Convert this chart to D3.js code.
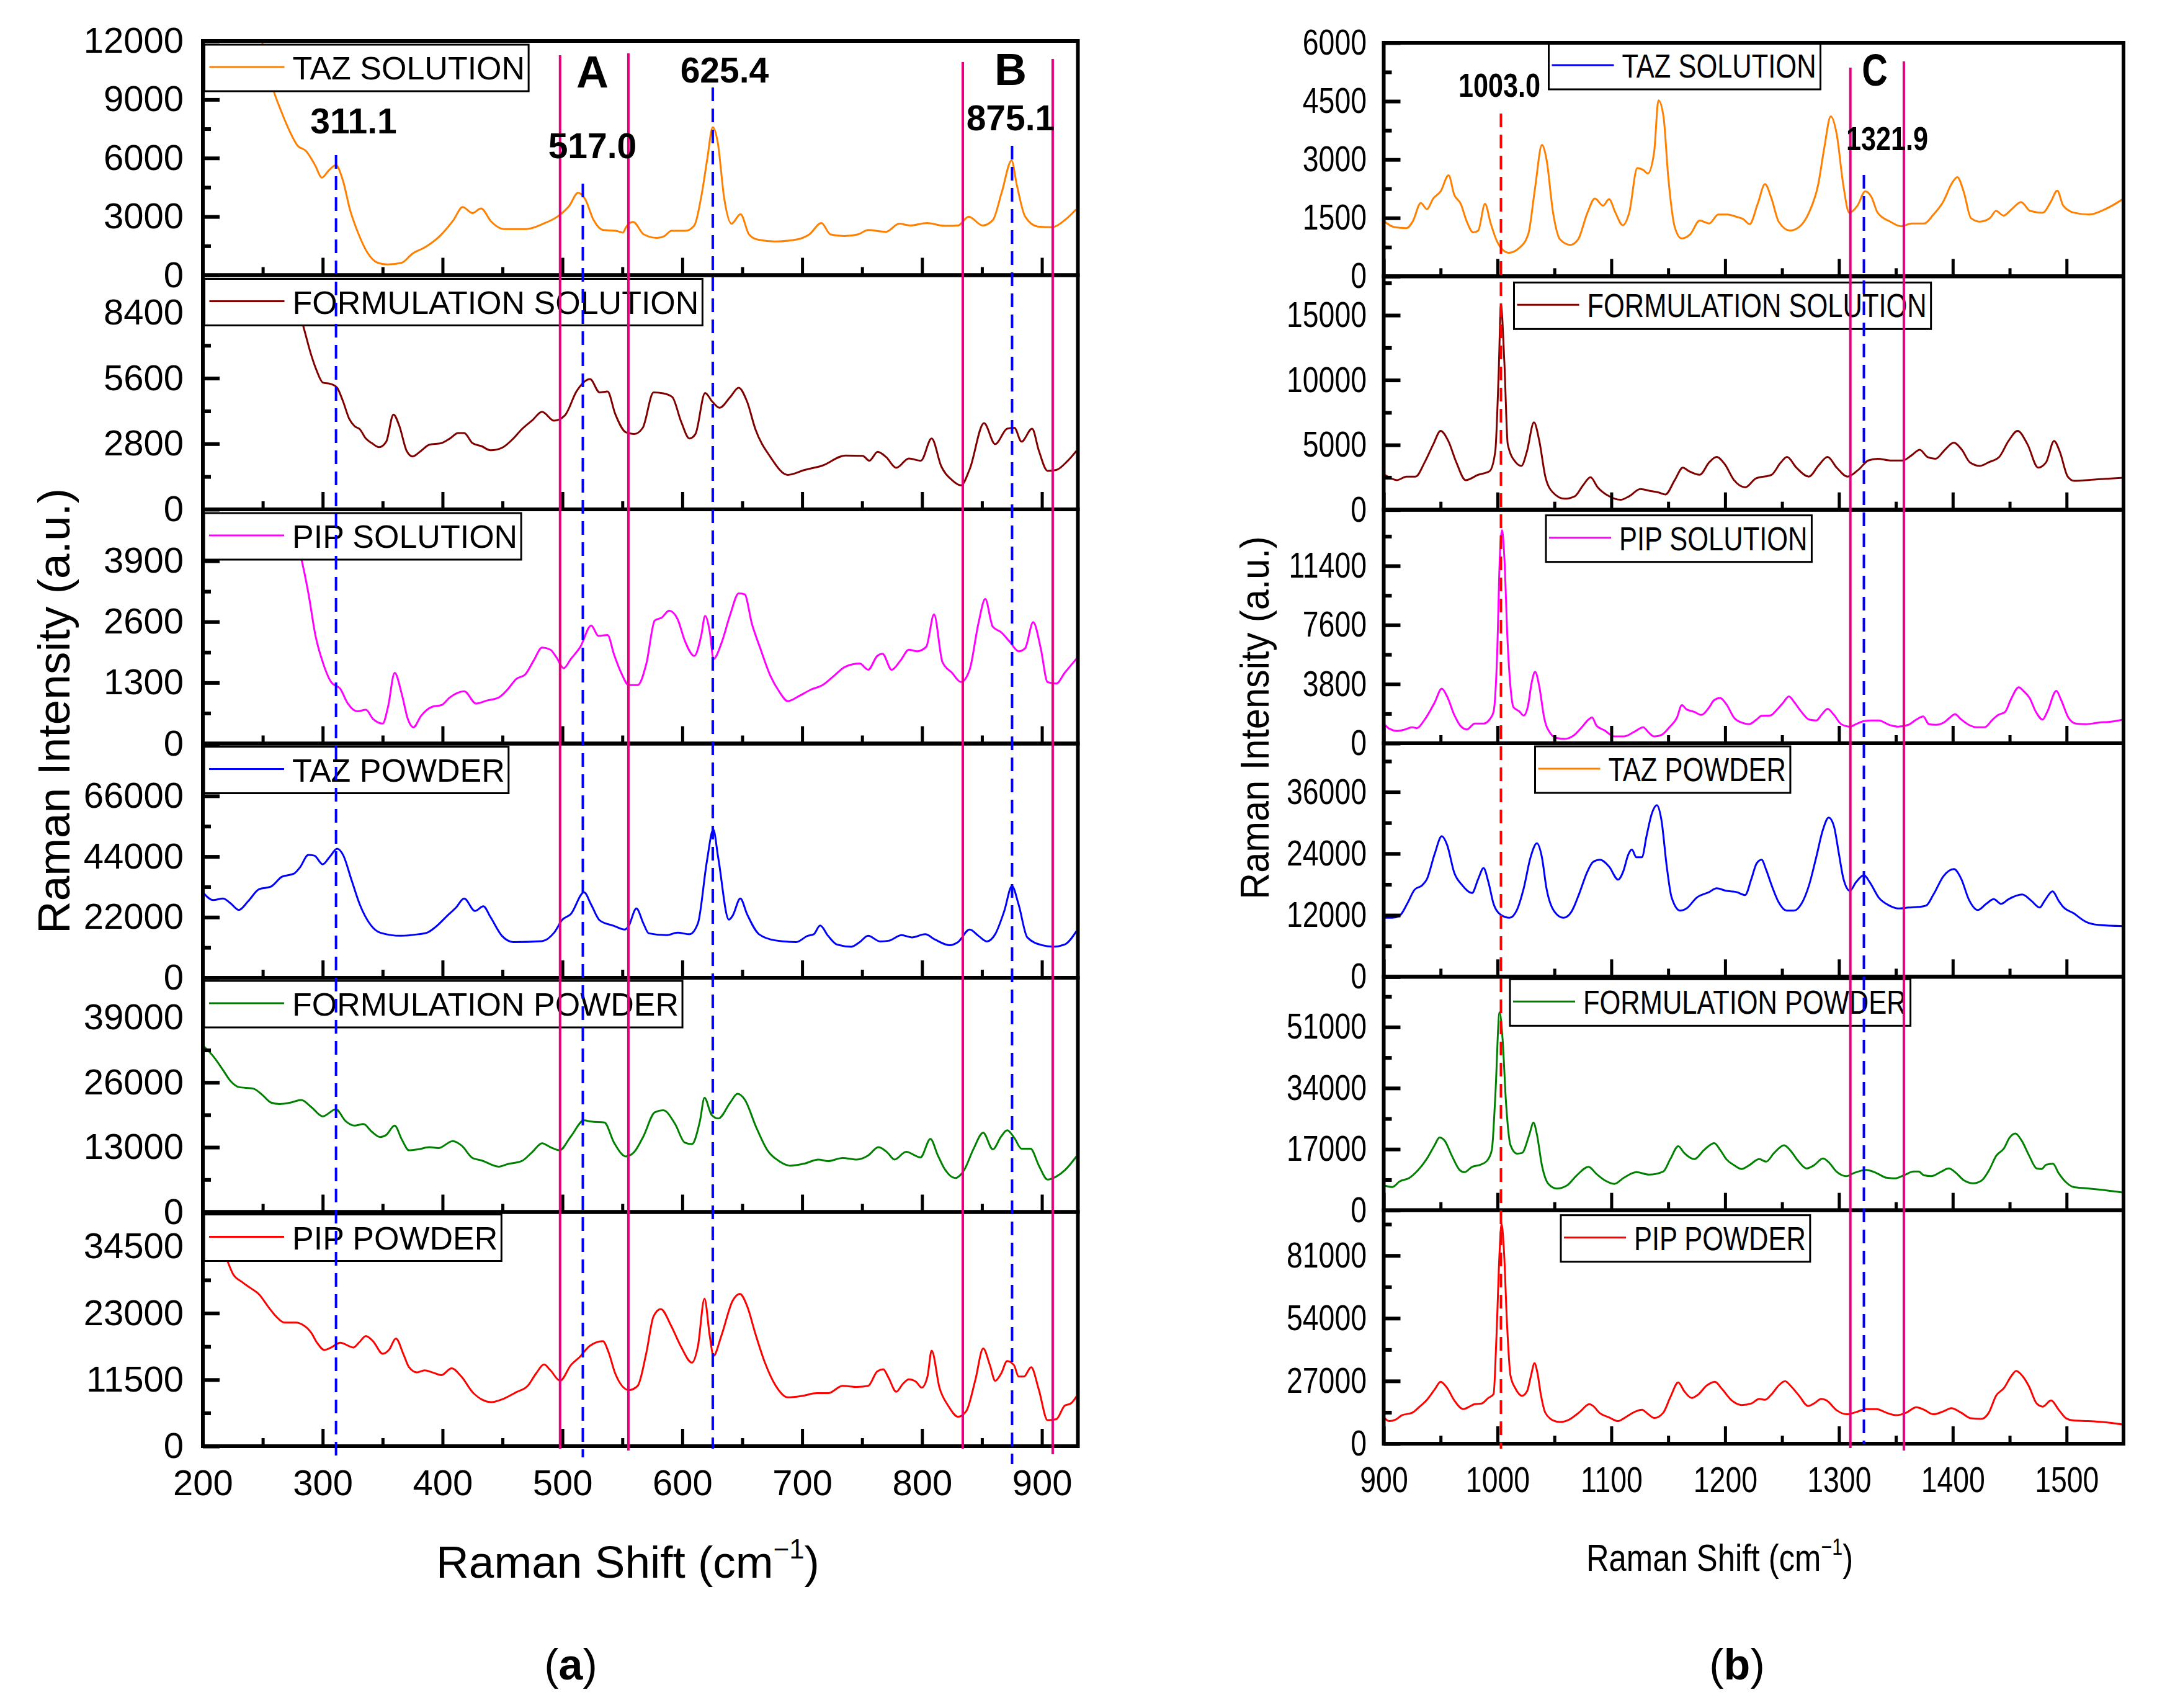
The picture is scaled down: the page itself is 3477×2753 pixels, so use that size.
<!DOCTYPE html>
<html>
<head>
<meta charset="utf-8">
<script src="https://cdn.jsdelivr.net/npm/d3@7"></script>
<style>
  body { margin: 0; background: #fff; }
  svg { display: block; }
  text { font-family: "Liberation Sans", Arial, sans-serif; fill: #000; }
</style>
</head>
<body>
<svg id="chart" width="3477" height="2753"></svg>
<script>
// ---- data -------------------------------------------------------------
const seriesNames = ["TAZ SOLUTION", "FORMULATION SOLUTION", "PIP SOLUTION", "TAZ POWDER", "FORMULATION POWDER", "PIP POWDER"];
const seriesColors = ["#ff8000", "#800000", "#ff00ff", "#0000ff", "#008000", "#ff0000"];
// in panel (b) the two TAZ legend swatches are swapped, as in the original figure
const legendColorsB = ["#0000ff", "#800000", "#ff00ff", "#ff8000", "#008000", "#ff0000"];

const xTicksA = [200, 300, 400, 500, 600, 700, 800, 900];
const xMinorA = [250, 350, 450, 550, 650, 750, 850];
const xTicksB = [900, 1000, 1100, 1200, 1300, 1400, 1500];
const xMinorB = [950, 1050, 1150, 1250, 1350, 1450];

const yMaxA = [12000, 10000, 5000, 85000, 47000, 40500];
const yTicksA = [
  [0, 3000, 6000, 9000, 12000],
  [0, 2800, 5600, 8400],
  [0, 1300, 2600, 3900],
  [0, 22000, 44000, 66000],
  [0, 13000, 26000, 39000],
  [0, 11500, 23000, 34500]
];
const yMinorA = [
  [1500, 4500, 7500, 10500],
  [1400, 4200, 7000, 9800],
  [650, 1950, 3250, 4550],
  [11000, 33000, 55000, 77000],
  [6500, 19500, 32500, 45500],
  [5750, 17250, 28750, 40250]
];
const yMaxB = [6000, 18000, 15000, 45500, 65000, 100500];
const yTicksB = [
  [0, 1500, 3000, 4500, 6000],
  [0, 5000, 10000, 15000],
  [0, 3800, 7600, 11400],
  [0, 12000, 24000, 36000],
  [0, 17000, 34000, 51000],
  [0, 27000, 54000, 81000]
];
const yMinorB = [
  [750, 2250, 3750, 5250],
  [2500, 7500, 12500, 17500],
  [1900, 5700, 9500, 13300],
  [6000, 18000, 30000, 42000],
  [8500, 25500, 42500, 59500],
  [13500, 40500, 67500, 94500]
];

// panel (a) spectra: [raman shift, intensity]
const tazSolA = [[249.5,11945],[259,9454],[265,8454],[272.5,7363],[279,6636],[286,6363],[293.6,5636],[299.3,4999],[305,5363],[311,5636],[317,4818],[322.7,3363],[330,2090],[337,1182],[345.8,636],[354,545],[365.9,636],[374.6,1091],[386,1454],[397.6,2000],[409,2818],[416.7,3490],[425,3181],[432,3418],[440.8,2727],[451,2363],[469.7,2363],[484,2636],[495.8,3000],[505.6,3545],[513,4218],[518.8,3909],[526,2818],[534,2309],[544.6,2272],[550.5,2181],[553,2454],[559,2727],[567.8,2090],[579,1909],[585,2000],[591,2272],[602.6,2272],[610,2545],[616,4090],[620.7,5909],[625.4,7581],[629.5,6818],[635,3909],[641,2636],[648.6,3127],[655.6,2090],[663,1818],[677.4,1727],[694.7,1818],[706,2090],[716,2672],[723.5,2090],[735,2000],[746.6,2090],[755,2309],[769.8,2218],[781,2636],[790,2545],[804,2672],[818.8,2527],[830,2545],[838.9,3000],[850.5,2545],[859,2818],[866.6,4272],[874.7,5872],[879,4636],[886,3000],[896.6,2490],[908,2454],[919.7,2854],[928.4,3363]];
const formSolA = [[276,9000],[283,7953],[290.5,6573],[295,5916],[300,5416],[307,5350],[312,5193],[317,4601],[322,3878],[326.6,3549],[331,3418],[336,3024],[341,2826],[347,2655],[353,2892],[359,4049],[364,3549],[370,2498],[375,2261],[382,2498],[389,2761],[399,2826],[406,3024],[413,3260],[418,3260],[425,2826],[432.6,2695],[440,2524],[449.5,2629],[459,3024],[466,3418],[475,3812],[483,4167],[493,3786],[502,4010],[512,5061],[523,5561],[531,4995],[537.6,5035],[544,4075],[553,3287],[560,3221],[567,3484],[576,4995],[584,4956],[591.6,4798],[599,3747],[606,3024],[611,3221],[619,4969],[625,4601],[631,4338],[640,4798],[647,5193],[654,4601],[661,3418],[673.5,2235],[688,1472],[702,1683],[716.8,1867],[736,2301],[750.5,2287],[756,2077],[763,2458],[770,2235],[778.5,1775],[789,2169],[799,2077],[808,3024],[816,1841],[825,1249],[832.5,1025],[839.7,1709],[851.7,3681],[861,2787],[871,3444],[877,3484],[883,2892],[891.8,3444],[897.5,2498],[904.7,1643],[912,1683],[921.6,2077],[928.8,2498]];
const pipSolA = [[279,4300],[282,3972],[288,3217],[294,2298],[300,1740],[307,1313],[314.6,1169],[321,854],[329,689],[336,722],[342,525],[350,427],[354.5,788],[360,1510],[366,1051],[371,525],[375.7,348],[382,591],[391.6,788],[399,821],[406,985],[418,1116],[428,854],[437,919],[447,985],[454,1149],[461.5,1379],[469,1477],[476,1773],[483,2049],[490,2003],[495,1838],[501,1609],[507,1806],[515,2068],[524,2521],[530,2298],[537.6,2318],[543,1904],[549,1510],[555.4,1248],[562.7,1248],[570,1707],[577,2626],[583,2692],[589,2837],[596,2659],[602,2200],[610,1871],[615.7,2298],[619,2725],[623,2364],[626,1806],[632.5,2134],[640,2758],[647,3204],[652,3185],[658,2561],[665,2035],[673.5,1445],[680.7,1116],[688,906],[697.6,1018],[707,1149],[717,1248],[726.5,1445],[736,1642],[748,1707],[755,1576],[762.6,1871],[767,1917],[774.6,1576],[782,1773],[789,2003],[796,1970],[803.5,2068],[810,2758],[817,1740],[825,1510],[832.5,1313],[839.7,1576],[847,2561],[852.7,3086],[859,2495],[866,2377],[873.4,2167],[880.6,1970],[886,2035],[892.7,2594],[899,2035],[904.7,1313],[912,1280],[919,1510],[926.5,1740],[931,1871]];
const tazPowA = [[200,31020],[208.6,28200],[216.8,28764],[223,27072],[230,24590],[237.5,27636],[247,32148],[256.7,33050],[266,36660],[276,37788],[281,40044],[288,44556],[293,44330],[300,41172],[306,43992],[312,46812],[317,44556],[324,35532],[331,26508],[340,19176],[348,16356],[365,15228],[379.6,15792],[387,16356],[394,18386],[404,22560],[411,25380],[418,28764],[427,24252],[434,25944],[440,21996],[449.5,15228],[459,12972],[483,13310],[493,16356],[500,21094],[507,23124],[518,31020],[524,26508],[531,20868],[543,18838],[552,17484],[555,18612],[561.7,25154],[567.5,19740],[572,16130],[586.8,15454],[596,16356],[606,15792],[613,19740],[620.5,42300],[625.8,53806],[630,43428],[638.8,21094],[642,22560],[648.4,28764],[654,23124],[664,15792],[678,13536],[695,12972],[704.6,15228],[709.6,15792],[715,18950],[721.6,15228],[729,12070],[741,11280],[748,12972],[755,15228],[765,13198],[772,13423],[783,15454],[791.5,14664],[802.6,15792],[810.8,13874],[823,11844],[830,12972],[839.7,17484],[847,15228],[854,13198],[861,15792],[868.6,24252],[875,33276],[880.6,26508],[887.8,14664],[899.9,11844],[909.5,11280],[919,12070],[928.8,16920]];
const formPowA = [[200,33426],[208.6,31260],[216,28784],[223,26308],[230,25069],[242,24760],[249.5,23522],[256.7,21975],[264,21665],[273.6,21975],[282,22470],[290.5,21046],[300,19189],[311,20613],[319,18261],[326.6,17332],[334,17642],[341,16094],[348,15042],[353,15475],[360,17332],[366,14547],[372,12380],[379.6,12566],[389,12999],[396.5,12813],[408.5,14237],[416,13309],[425,10833],[432.6,10337],[447,9099],[454,9595],[466,10214],[475,12071],[483,13804],[490,12999],[497.6,12380],[507,15166],[518,18384],[524,18137],[535,17951],[543,13928],[553,11142],[560,12071],[567.5,15166],[577,19994],[584,20427],[594,17642],[602,13928],[608,13619],[614.7,18261],[618.5,22903],[624.4,19499],[630,18756],[640,21975],[646,23708],[652,22594],[661.6,17023],[671,12380],[680.7,10214],[690,9285],[702,9718],[713.5,10523],[721.6,10214],[733.7,10833],[745.7,10523],[755,11328],[763.6,12999],[771,11947],[777,10523],[786.7,12071],[798.7,10956],[807,14670],[813,11452],[818,8976],[827.6,6809],[835,8357],[843,12690],[851,15908],[859,12566],[866,15166],[871,16404],[877,14856],[883,12690],[890.5,12690],[897.5,9285],[904.7,6500],[912,7119],[919,8357],[928.8,11142]];
const pipPowA = [[218,33500],[220.6,31987],[225,29830],[232.7,28393],[240,27314],[247,26236],[254,24260],[261,22462],[268,21384],[278,21384],[283,21025],[290.5,19587],[295,17970],[301.5,16640],[307,17071],[314.6,17898],[325.6,17071],[330.5,17970],[336,19048],[342,18150],[350,15993],[355.5,16712],[361,18617],[367.5,15813],[372,13657],[378.6,12759],[385,13118],[391.6,12759],[399,12292],[407.5,13477],[415.7,12040],[425,9344],[432.6,8086],[441,7619],[449.5,8086],[461.5,9344],[471,10423],[478,12579],[484.6,14124],[490,13118],[498,11321],[507,14016],[514.5,15454],[522.7,17323],[533.7,18150],[538.6,16173],[544,12579],[555.4,9703],[562.7,10423],[570,16173],[576,22462],[582,23720],[590.6,20845],[598.8,17251],[608,14448],[613,17251],[618.5,25517],[622.9,19048],[626,15633],[632.5,19048],[642,25158],[648,26344],[654,24260],[661,19407],[668.7,14555],[678,10423],[688,8446],[700,8697],[712,9164],[721.6,9164],[733.7,10423],[745.7,10243],[755,10423],[762.6,12938],[767.6,13298],[772,11860],[778.5,9416],[784,10782],[789,11573],[795,11141],[799.7,10135],[804.5,12040],[808,16532],[814.6,10063],[821.8,7008],[830,5103],[837,6110],[844.5,11501],[851,16892],[856.6,14016],[861,11321],[866,12579],[871,14735],[876.7,14016],[880.6,12040],[885,12040],[891,13657],[897.5,9703],[904.7,4493],[912,4672],[919,7008],[924,7367],[931,9344]];

// panel (b) spectra
const tazSolB = [[900.8,1404],[909,1266],[920,1238],[925.4,1404],[932.6,1881],[938,1725],[943.5,2000],[950,2183],[957,2596],[962,2092],[967.7,1862],[973,1404],[978.6,1128],[983,1174],[989,1862],[994,1358],[999.5,899],[1005,670],[1010,605],[1018.6,716],[1027,1083],[1033,2275],[1039,3376],[1043,3009],[1048.8,1633],[1055,945],[1064,807],[1070.7,945],[1079,1633],[1085.5,2000],[1092.7,1816],[1098,1982],[1103.6,1633],[1110,1312],[1115.7,1633],[1122.8,2780],[1128,2734],[1132,2642],[1137.6,3193],[1141.4,4523],[1145.8,4110],[1150,2550],[1155.7,1266],[1161.7,972],[1169.4,1083],[1177.6,1431],[1186,1358],[1194,1587],[1202,1587],[1210.5,1523],[1216,1468],[1221.5,1339],[1228.6,1862],[1235,2367],[1240.7,2000],[1247,1404],[1257,1174],[1265,1266],[1273.6,1633],[1281.8,2367],[1287,3284],[1292.8,4110],[1298,3651],[1303.7,2367],[1309,1633],[1316.3,1816],[1323,2183],[1328.4,2046],[1334,1633],[1345,1404],[1354.7,1284],[1364,1358],[1375,1358],[1383,1587],[1391.4,1908],[1399.7,2413],[1404,2550],[1409.5,2183],[1416,1495],[1424,1404],[1432.6,1495],[1438,1679],[1444.6,1560],[1451.8,1725],[1460,1908],[1468,1679],[1479,1633],[1486,1908],[1491.8,2202],[1497,1816],[1506.6,1633],[1520,1587],[1534,1725],[1550.4,2000]];
const formSolB = [[900.8,2697],[911.7,2284],[920,2559],[928,2559],[936,3660],[943.5,5036],[950,6082],[956.7,5311],[963.8,3660],[972,2284],[983,2697],[993,2972],[998,4486],[1001,10540],[1003,15769],[1006,11366],[1009,5036],[1016,3660],[1021,3385],[1025.8,4486],[1032,6742],[1036.7,5311],[1042,2559],[1048.8,1321],[1058.7,853],[1068,1046],[1075,1871],[1081.7,2504],[1088,1734],[1098,1046],[1108,771],[1115.7,1046],[1125.5,1596],[1133.8,1459],[1142,1321],[1147.5,1183],[1155.7,2284],[1162.8,3247],[1168.3,2972],[1177.6,2697],[1186,3660],[1192.5,4073],[1199.6,3523],[1207.8,2284],[1217.7,1734],[1227,2422],[1240.7,2697],[1249,3660],[1254.4,4073],[1262.6,3247],[1273.6,2559],[1281.8,3385],[1290,4073],[1298,3247],[1307.6,2559],[1317.4,3110],[1325.7,3798],[1334,3935],[1345,3798],[1356,3798],[1364,4211],[1371,4623],[1377.7,4073],[1384.9,3935],[1393,4623],[1400.8,5174],[1408,4623],[1415,3660],[1424,3385],[1431.5,3660],[1440.8,4073],[1449,5311],[1457,6082],[1465.7,5036],[1475,3247],[1482,3660],[1489,5311],[1494,4486],[1501,2559],[1506.6,2229],[1525.8,2339],[1550.4,2477]];
const pipSolB = [[900,1266],[905,930],[911.8,792],[918,871],[925,1029],[929,970],[936,1524],[944.7,2612],[951,3503],[955.7,3008],[962,1821],[968,1069],[973,891],[980,1266],[987.7,1266],[993,1524],[996.5,2019],[999.6,5581],[1002,11914],[1004,13695],[1006,11914],[1008.8,6570],[1011.4,3602],[1014,2315],[1019,2058],[1023,1781],[1026.8,2414],[1030,3899],[1033,4591],[1036.8,3602],[1041,1623],[1046.5,633],[1052,336],[1058.8,277],[1067.5,534],[1074,1029],[1080,1524],[1083,1662],[1087,1128],[1094,831],[1102.6,435],[1111,435],[1120,732],[1128,1029],[1133,673],[1137.7,435],[1144,534],[1151,1029],[1157.5,1623],[1162,2454],[1166,2177],[1172.8,2019],[1179,1821],[1186,2315],[1190,2751],[1195.6,2909],[1201,2513],[1208,1623],[1214.5,1326],[1221,1227],[1227.6,1524],[1232,1761],[1239.5,1781],[1245,2117],[1251,2612],[1256,3008],[1261,2612],[1267,2019],[1273.7,1524],[1280,1464],[1284.6,1821],[1290,2216],[1295.6,1821],[1302,1227],[1309.6,1069],[1315,1227],[1322,1425],[1328.5,1464],[1335,1464],[1344,1187],[1351.8,1069],[1361,1187],[1368,1524],[1374,1722],[1379,1227],[1385.5,1187],[1392,1326],[1397,1623],[1402,1860],[1407.5,1524],[1414,1187],[1420.6,1029],[1428,1029],[1435,1524],[1440,1821],[1446,2019],[1451,2810],[1458,3602],[1462,3364],[1467.5,2909],[1473,2019],[1478.9,1524],[1483,2019],[1491,3364],[1495,2810],[1501.8,1623],[1508,1266],[1517,1227],[1528,1326],[1539,1385],[1550,1524]];
const tazPowB = [[900,11486],[907.5,11486],[914,11909],[920.6,14206],[927,16926],[933.8,17833],[938,19042],[944.7,23878],[951,27384],[955.7,25691],[962,20251],[969,17833],[977.6,16322],[983,19042],[987.7,21158],[992,18437],[996.5,14206],[1002.6,12090],[1010.5,11486],[1017,12997],[1023,17228],[1029,23273],[1034.6,25994],[1039,23273],[1043,17228],[1050,12695],[1058,11486],[1065,12695],[1072,16322],[1078.5,20251],[1084,22367],[1090,22790],[1098,21460],[1106,18921],[1110.5,20553],[1115,23878],[1118,24785],[1122,23273],[1126.8,23273],[1131,27505],[1135.5,31736],[1140,33429],[1144,30527],[1148.7,21460],[1153,15415],[1160.5,12876],[1166,13299],[1175,15415],[1186,16503],[1192.5,17228],[1201,16745],[1210,16503],[1217.5,15899],[1223,19042],[1227.6,22064],[1232,22790],[1236,20855],[1240.8,17833],[1247,14508],[1254,12876],[1260.5,12876],[1267,14206],[1273.7,17833],[1280,23273],[1286,28714],[1291,31011],[1295.6,29318],[1300,23878],[1304,19042],[1309.6,16745],[1315,18437],[1322,19767],[1327,18437],[1335,15415],[1344,13904],[1353,13299],[1361,13481],[1370,13602],[1376.8,13904],[1383,16019],[1392,19646],[1401,20976],[1407.5,19042],[1414,15112],[1422,12997],[1429.4,14206],[1436,15112],[1442.5,14206],[1449,15112],[1461,16019],[1469,14810],[1476.3,13481],[1480.7,14810],[1487.7,16624],[1493,14810],[1497,13602],[1506,12392],[1517,10700],[1528,10095],[1550,9853]];
const formPowB = [[900,6893],[907.5,6462],[914,8013],[922.8,9047],[929,10770],[938,14389],[944.7,18094],[949,20248],[953.5,19386],[960,15078],[966.7,11201],[971,10598],[977.6,12062],[985,12665],[990.8,13786],[995,16801],[998,31448],[1001.8,55142],[1004.4,47819],[1007.5,29725],[1011.4,18094],[1017,15767],[1021.5,15940],[1028,21109],[1031.6,24383],[1034.6,21109],[1039,12493],[1044.7,7324],[1052,6031],[1061,6893],[1069.7,9736],[1080,12062],[1087,10081],[1095,8185],[1102.6,7324],[1111,9047],[1122,10598],[1133,9908],[1145.6,10770],[1151.8,14216],[1158.8,17835],[1164,15940],[1172.8,14216],[1181.6,16801],[1190.4,18697],[1195.6,16801],[1201,14216],[1208,12493],[1214.5,11459],[1221,12493],[1230,14216],[1236,13527],[1243,15940],[1251.8,18094],[1258,16370],[1264,13786],[1271.5,11632],[1278,12493],[1286,14389],[1291,13355],[1297.8,10770],[1306.6,9478],[1313,10339],[1324,11201],[1333,10339],[1341.7,9047],[1349,8874],[1357,9736],[1365.8,10770],[1370,10770],[1374.6,9736],[1381,9478],[1390,10770],[1396.5,11632],[1403,10339],[1409.6,8357],[1418,7496],[1425,8185],[1432,11201],[1438,15078],[1445,17232],[1450,20248],[1455,21368],[1460.5,19386],[1467,15250],[1473.7,11632],[1478,11459],[1482,12665],[1488,12924],[1493,10339],[1499.6,7754],[1506,6462],[1517,6117],[1528,5773],[1550,4911]];
const pipPowB = [[900,11322],[905,9724],[910.5,10390],[916,12254],[925,13320],[931.6,15984],[938,18914],[944.7,23310],[950,26640],[955.7,23976],[962,18648],[970,14918],[975.4,15984],[979.8,17050],[986,17316],[992,19714],[996.5,21312],[999,45288],[1001.8,82584],[1003.5,94572],[1005.7,82584],[1008.3,51948],[1011.4,29304],[1015.8,23710],[1021.5,20646],[1026,22644],[1029.4,29304],[1032.5,34632],[1035,30636],[1038,21312],[1042,13320],[1049,9990],[1055,9324],[1063,10390],[1072,13586],[1080.7,17050],[1084,16250],[1089.5,13320],[1098,11322],[1106,9724],[1111,10922],[1120,13586],[1126.8,14652],[1132.5,12654],[1137.7,11056],[1145.6,13320],[1151.8,19980],[1158.8,26374],[1164,22644],[1170.6,19714],[1176,21046],[1183.8,25042],[1191,26640],[1197,23710],[1205.7,18648],[1214.5,16650],[1223,17316],[1230,19314],[1235,18914],[1240.8,21312],[1247,25042],[1252.6,26906],[1258,24642],[1265,20646],[1272.8,16250],[1278,17316],[1284.6,19314],[1289,18648],[1298,14386],[1306.6,12654],[1315,13586],[1324,14918],[1333,14918],[1341.7,13320],[1350.4,12254],[1359,13320],[1368,15718],[1374.6,14652],[1383,12654],[1392,13986],[1398.7,15318],[1407.5,13320],[1416,10922],[1425,10656],[1431.6,13320],[1438,20646],[1445,23976],[1451.3,29038],[1455.7,31302],[1461.4,29038],[1467,24642],[1473.7,17316],[1479,15984],[1486.4,18648],[1493,14652],[1499.6,10922],[1506,9990],[1519,9724],[1536.8,9058],[1550,8200]];

// marker lines (cm-1) and peak labels
const peakLinesA = [311.1, 517.0, 625.4, 875.1];
const bandLinesA = [498, 555, 834, 909];
const peakLabelsA = ["311.1", "517.0", "625.4", "875.1"];
const regionLabelsA = ["A", "B"];
const redPeakB = [1003.0];
const peakLinesB = [1321.9];
const bandLinesB = [1310, 1357];
const peakLabelsB = ["1003.0", "1321.9"];
const regionLabelsB = ["C"];

// ---- layout -----------------------------------------------------------
const svg = d3.select("#chart");
const NARROW = 0.8;

const colA = {
  id: "a", left: 327, right: 1737.5, top: 66, bottom: 2331, domain: [200, 930],
  xTicks: xTicksA, xMinor: xMinorA, yMax: yMaxA, yTicks: yTicksA, yMinor: yMinorA,
  series: [tazSolA, formSolA, pipSolA, tazPowA, formPowA, pipPowA],
  legendColors: seriesColors, narrow: 1, labelPad: 31, xPad: 38,
  legend: { dx: [2.5, 2.5, 2, 2, 2, 2], dy: [6, 6, 6, 5, 5, 4], h: 75, line: [8, 129], text: 142,
            size: 52, scale: 1, pad: 6 }
};
const colB = {
  id: "b", left: 2230.5, right: 3423, top: 69, bottom: 2327, domain: [900, 1550],
  xTicks: xTicksB, xMinor: xMinorB, yMax: yMaxB, yTicks: yTicksB, yMinor: yMinorB,
  series: [tazSolB, formSolB, pipSolB, tazPowB, formPowB, pipPowB],
  legendColors: legendColorsB, narrow: NARROW, labelPad: 27.5, xPad: 37,
  legend: { dx: [266, 210, 261.5, 244, 203.5, 285.5], dy: [0, 10, 9, 5, 4, 8], h: 75, line: [5, 105], text: 118,
            size: 53, scale: 0.82, pad: 7 }
};

function drawColumn(col) {
  const x = d3.scaleLinear().domain(col.domain).range([col.left, col.right]);
  const ph = (col.bottom - col.top) / 6;
  const gCurves = svg.append("g");
  const gAxes = svg.append("g");
  const gLegend = svg.append("g");

  col.series.forEach((data, i) => {
    const top = col.top + i * ph;
    const bot = top + ph;
    const y = d3.scaleLinear().domain([0, col.yMax[i]]).range([bot, top]);

    const clipId = "clip-" + col.id + i;
    svg.append("clipPath").attr("id", clipId)
      .append("rect").attr("x", col.left).attr("y", top)
      .attr("width", col.right - col.left).attr("height", ph);

    const line = d3.line().x(d => x(d[0])).y(d => y(d[1])).curve(d3.curveMonotoneX);
    gCurves.append("path").datum(data)
      .attr("clip-path", `url(#${clipId})`)
      .attr("fill", "none")
      .attr("stroke", seriesColors[i])
      .attr("stroke-width", 3)
      .attr("stroke-linejoin", "round")
      .attr("d", line);

    // y axis: ticks point inward, labels outside
    const yMinorAxis = gAxes.append("g").attr("transform", `translate(${col.left},0)`)
      .call(d3.axisLeft(y).tickValues(col.yMinor[i].filter(v => v < col.yMax[i])).tickSize(-13).tickFormat(""));
    const yAxis = gAxes.append("g").attr("transform", `translate(${col.left},0)`)
      .call(d3.axisLeft(y).tickValues(col.yTicks[i]).tickSize(-27).tickPadding(col.labelPad).tickFormat(d3.format("d")));
    [yMinorAxis, yAxis].forEach(a => {
      a.select(".domain").remove();
      a.selectAll("line").attr("stroke", "#000").attr("stroke-width", 6);
    });
    yAxis.selectAll("text")
      .attr("font-size", 58)
      .attr("font-family", "Liberation Sans, Arial, sans-serif")
      .attr("fill", "#000")
      .attr("x", -col.labelPad / col.narrow)
      .attr("transform", `scale(${col.narrow},1)`);

    // x axis at the bottom of every panel, labels only on the last one
    const xMinorAxis = gAxes.append("g").attr("transform", `translate(0,${bot})`)
      .call(d3.axisBottom(x).tickValues(col.xMinor).tickSize(-13).tickFormat(""));
    const xAxis = gAxes.append("g").attr("transform", `translate(0,${bot})`)
      .call(d3.axisBottom(x).tickValues(col.xTicks).tickSize(-28).tickPadding(col.xPad)
        .tickFormat(i === 5 ? d3.format("d") : ""));
    [xMinorAxis, xAxis].forEach(a => {
      a.select(".domain").remove();
      a.selectAll("line").attr("stroke", "#000").attr("stroke-width", 5);
    });
    xAxis.selectAll("text")
      .attr("font-size", 58)
      .attr("font-family", "Liberation Sans, Arial, sans-serif")
      .attr("fill", "#000")
      .attr("transform", `scale(${col.narrow},1)`);

    // legend box
    const L = col.legend;
    const lx = col.left + L.dx[i];
    const ly = top + L.dy[i];
    const box = gLegend.append("rect")
      .attr("x", lx).attr("y", ly).attr("height", L.h)
      .attr("fill", "#fff").attr("stroke", "#000").attr("stroke-width", 3);
    gLegend.append("line")
      .attr("x1", lx + L.line[0]).attr("x2", lx + L.line[1])
      .attr("y1", ly + 36).attr("y2", ly + 36)
      .attr("stroke", col.legendColors[i]).attr("stroke-width", 3);
    const t = gLegend.append("text")
      .attr("transform", `translate(${lx + L.text},${ly + 56}) scale(${L.scale},1)`)
      .attr("font-size", L.size)
      .text(seriesNames[i]);
    const tw = t.node().getComputedTextLength() * L.scale;
    box.attr("width", L.text + tw + L.pad);
  });

  // panel frames
  const gFrame = svg.append("g");
  for (let i = 0; i < 6; i++) {
    gFrame.append("rect")
      .attr("x", col.left).attr("y", col.top + i * ph)
      .attr("width", col.right - col.left).attr("height", ph)
      .attr("fill", "none").attr("stroke", "#000").attr("stroke-width", 6);
  }
  return x;
}

const xA = drawColumn(colA);
const xB = drawColumn(colB);

// ---- marker lines -------------------------------------------------------
const gMarks = svg.append("g");
function vline(x, y1, y2, color, width, dash) {
  gMarks.append("line")
    .attr("x1", x).attr("x2", x).attr("y1", y1).attr("y2", y2)
    .attr("stroke", color).attr("stroke-width", width)
    .attr("stroke-dasharray", dash || null);
}
const bandTopsA = [89, 86, 100, 95], bandEndsA = [2335, 2338, 2335, 2344];
bandLinesA.forEach((v, i) => vline(xA(v), bandTopsA[i], bandEndsA[i], "#e6007e", 4));
const peakTopsA = [250, 296, 141, 235], peakEndsA = [2354, 2349, 2335, 2360];
peakLinesA.forEach((v, i) => vline(xA(v), peakTopsA[i], peakEndsA[i], "#0000ff", 4, "22 12"));

const bandTopsB = [109, 99], bandEndsB = [2334, 2338];
bandLinesB.forEach((v, i) => vline(xB(v), bandTopsB[i], bandEndsB[i], "#e6007e", 4));
redPeakB.forEach(v => vline(xB(v), 183, 2335, "#ff0000", 4, "22 12"));
peakLinesB.forEach(v => vline(xB(v), 282, 2328, "#0000ff", 4, "22 12"));

// ---- annotations --------------------------------------------------------
const gText = svg.append("g").attr("font-weight", "bold").attr("text-anchor", "middle");
const peakLabelPosA = [[570, 215], [955, 255], [1168, 133], [1629, 210]];
peakLabelsA.forEach((s, i) => gText.append("text")
  .attr("x", peakLabelPosA[i][0]).attr("y", peakLabelPosA[i][1])
  .attr("font-size", 57).text(s));
const regionPosA = [[955, 141], [1629, 137]];
regionLabelsA.forEach((s, i) => gText.append("text")
  .attr("x", regionPosA[i][0]).attr("y", regionPosA[i][1])
  .attr("font-size", 72).text(s));

const peakLabelPosB = [[2417, 156], [3042, 242]];
peakLabelsB.forEach((s, i) => gText.append("text")
  .attr("transform", `translate(${peakLabelPosB[i][0]},${peakLabelPosB[i][1]}) scale(${NARROW},1)`)
  .attr("font-size", 54).text(s));
const regionPosB = [[3022, 138]];
regionLabelsB.forEach((s, i) => gText.append("text")
  .attr("transform", `translate(${regionPosB[i][0]},${regionPosB[i][1]}) scale(${NARROW},1)`)
  .attr("font-size", 72).text(s));

// ---- axis titles --------------------------------------------------------
function shiftTitle(g, size) {
  g.append("tspan").text("Raman Shift (cm");
  g.append("tspan").attr("dy", -size * 0.42).attr("font-size", size * 0.6).text("\u22121");
  g.append("tspan").attr("dy", size * 0.42).text(")");
}
const tA = svg.append("text").attr("x", 1012).attr("y", 2543)
  .attr("text-anchor", "middle").attr("font-size", 73);
shiftTitle(tA, 73);
const tB = svg.append("text").attr("transform", "translate(2772,2532) scale(0.82,1)")
  .attr("text-anchor", "middle").attr("font-size", 62);
shiftTitle(tB, 62);

svg.append("text").attr("transform", "translate(112,1146) rotate(-90)")
  .attr("text-anchor", "middle").attr("font-size", 73)
  .text("Raman Intensity (a.u.)");
svg.append("text").attr("transform", "translate(2045,1157) rotate(-90) scale(0.93,1)")
  .attr("text-anchor", "middle").attr("font-size", 64)
  .text("Raman Intensity (a.u.)");

// ---- sub-figure captions -----------------------------------------------
[["a", 920], ["b", 2800]].forEach(([s, cx]) => {
  const c = svg.append("text").attr("x", cx).attr("y", 2707)
    .attr("text-anchor", "middle").attr("font-size", 70)
    .attr("font-family", "Liberation Serif, Times New Roman, serif");
  c.append("tspan").text("(");
  c.append("tspan").attr("font-weight", "bold").text(s);
  c.append("tspan").text(")");
});
</script>
</body>
</html>
